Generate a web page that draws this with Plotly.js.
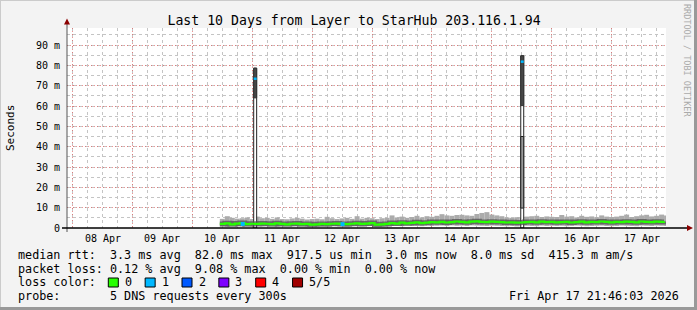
<!DOCTYPE html>
<html>
<head>
<meta charset="utf-8">
<script src="https://cdn.plot.ly/plotly-3.0.1.min.js"></script>
<style>html,body{margin:0;padding:0;background:#f3f3f3;}#chart{width:697px;height:310px;}</style>
</head>
<body>
<div id="chart"></div>
<script>
// ---- data ----
const title = 'Last 10 Days from Layer to StarHub 203.116.1.94';
const rangeStart = '2026-04-07 21:46:03';
const rangeEnd = '2026-04-17 21:46:03';
const dayTicks = ['2026-04-08','2026-04-09','2026-04-10','2026-04-11','2026-04-12','2026-04-13','2026-04-14','2026-04-15','2026-04-16','2026-04-17'];
const dayLabels = ['08 Apr','09 Apr','10 Apr','11 Apr','12 Apr','13 Apr','14 Apr','15 Apr','16 Apr','17 Apr'];
const yTickVals = [0,10,20,30,40,50,60,70,80,90];
const yTickText = ['0','10 m','20 m','30 m','40 m','50 m','60 m','70 m','80 m','90 m'];

// 2-hour samples starting 10 Apr 11:00 (values in ms)
const sampleStart = '2026-04-10T11:00:00';
const sampleStepHours = 2;
const median = [
  2.0,2.3,1.8,2.2,2.4,1.9,2.1,
  2.0,2.2,2.1,1.9,2.3,2.0,1.8,2.1,2.2,1.9,2.0,1.7,
  1.8,2.0,1.9,2.1,2.2,2.0,1.9,2.1,2.3,2.0,2.2,2.4,
  1.7,1.8,2.0,2.4,2.2,2.6,2.3,2.5,2.8,2.4,2.6,2.9,
  2.8,3.0,2.7,2.9,3.2,3.0,2.8,3.1,3.3,3.0,2.9,3.1,
  3.0,2.9,2.7,2.8,2.6,2.7,2.9,3.0,2.8,3.1,2.9,3.0,
  2.8,2.9,3.0,2.7,2.9,3.1,2.8,3.0,2.9,3.2,3.0,2.8,
  3.0,2.9,3.1,3.0,2.8,3.2,3.0,2.9,3.1,3.0,3.2
];
const smokeMax = [
  4.5,5.8,5.0,4.6,4.8,5.2,4.4,
  5.6,4.8,5.0,4.5,5.2,4.4,4.3,4.7,5.0,4.6,4.2,4.4,
  4.6,4.3,5.5,4.8,4.4,4.7,5.0,4.5,5.8,4.6,5.0,4.8,
  4.4,4.8,5.0,6.2,5.2,5.6,5.0,5.4,6.0,5.2,5.8,5.5,
  6.0,6.8,6.2,6.0,6.4,6.5,6.2,6.0,6.9,7.4,7.8,6.6,
  6.2,5.8,5.2,5.0,5.3,5.1,5.6,5.8,6.0,5.4,5.7,5.5,
  5.4,6.4,5.6,5.8,5.2,6.0,5.5,5.7,5.3,6.2,5.6,5.4,
  5.6,6.0,6.6,5.4,5.8,6.2,6.5,5.7,6.0,6.6,6.2
];
const smokeMin = [
  0.8,0.6,0.9,0.7,0.6,1.0,0.9,
  1.0,0.8,0.9,1.1,0.7,0.9,1.0,0.8,0.9,1.0,0.8,0.9,
  0.7,0.9,0.8,1.0,0.9,0.8,0.7,0.9,1.0,0.8,0.9,1.0,
  0.8,0.7,0.9,1.0,1.1,0.9,1.2,1.0,1.1,0.9,1.2,1.0,
  1.1,1.2,1.0,1.3,1.1,1.2,1.0,1.3,1.2,1.1,1.0,1.2,
  1.1,1.0,0.9,1.0,0.8,0.9,1.1,1.0,0.9,1.2,1.0,1.1,
  1.0,1.1,0.9,1.0,1.2,1.1,0.9,1.0,1.1,1.2,1.0,0.9,
  1.0,1.2,1.1,1.0,0.9,1.2,1.1,1.0,1.2,1.1,1.0
];
// samples with 1/5 loss
const lossTimes = ['2026-04-10T20:10:00','2026-04-12T12:10:00'];
const lossMedian = [2.0,1.9];

// latency spikes
const spikeTimes = ['2026-04-11T01:10:00','2026-04-15T12:10:00'];
const spikeMax = [78.6,84.7];
const spikeMedian = [73.4,81.8];
const spikeDarkLo = [64.0,60.2];
const spikeLightLo = [null,9.8];
const spikeLightHi = [null,45.0];

// legend text
const statLines = [
  'median rtt:  3.3 ms avg  82.0 ms max  917.5 us min  3.0 ms now  8.0 ms sd  415.3 m am/s',
  'packet loss: 0.12 % avg  9.08 % max  0.00 % min  0.00 % now',
  'loss color:',
  'probe:       5 DNS requests every 300s'
];
const lossLabels = ['0','1','2','3','4','5/5'];
const lossColors = ['#26ff00','#00b8ff','#0059ff','#7e00ff','#ff0000','#a10000'];
const stampText = 'Fri Apr 17 21:46:03 2026';

// ---- geometry helpers (pixel -> paper) ----
const L=67, R=666, T=28, B=228;
const px = x => (x-L)/(R-L);
const py = y => (B-y)/(B-T);
const nb = s => s.replace(/ /g,'\u00a0');
const MONO = 'DejaVu Sans Mono';

const t0 = new Date(sampleStart+'Z').getTime();
const times = median.map((_,i)=>new Date(t0+i*sampleStepHours*3600000).toISOString().replace('Z',''));
const H2 = sampleStepHours*3600000;

const traces = [
  {type:'bar', x:times, base:smokeMin, y:smokeMax.map((v,i)=>v-smokeMin[i]), width:H2, offset:0,
   marker:{color:'#ababab', line:{width:0}}, hoverinfo:'skip'},
  {type:'scatter', mode:'lines', x:times, y:median, line:{shape:'hv', color:'#505050', width:5}, opacity:0.75, hoverinfo:'skip'},
  {type:'scatter', mode:'lines', x:times, y:median, line:{shape:'hv', color:'#26ff00', width:2.2}},
  {type:'scatter', mode:'markers', x:lossTimes, y:lossMedian, marker:{symbol:'square', size:4, color:'#00b8ff'}},
  {type:'bar', x:spikeTimes, base:[0,0], y:spikeMax, width:4.3e6,
   marker:{color:'#ffffff', line:{color:'#222', width:1}}},
  {type:'bar', x:spikeTimes, base:spikeLightLo, y:spikeLightHi.map((v,i)=>v==null?null:v-spikeLightLo[i]), width:4.3e6,
   marker:{color:'#9a9a9a', line:{color:'#222', width:1}}},
  {type:'bar', x:spikeTimes, base:spikeDarkLo, y:spikeMax.map((v,i)=>v-spikeDarkLo[i]), width:4.3e6,
   marker:{color:'#484848', line:{color:'#333', width:1}}},
  {type:'bar', x:spikeTimes, base:spikeMedian.map(v=>v-0.6), y:spikeMedian.map(()=>1.2), width:4.3e6,
   marker:{color:'#00b8ff', line:{width:0}}}
];

const annotations = [];
dayTicks.forEach((d,i)=>{
  annotations.push({xref:'x', yref:'paper', x:d+' 12:00', y:py(238), text:dayLabels[i], showarrow:false,
    xanchor:'center', yanchor:'middle', font:{family:MONO, size:10, color:'#000'}});
});
annotations.push({xref:'paper', yref:'paper', x:px(10), y:py(128), text:'Seconds', textangle:-90, showarrow:false,
  xanchor:'center', yanchor:'middle', font:{family:MONO, size:11, color:'#000'}});
annotations.push({xref:'paper', yref:'paper', x:px(687), y:py(60), text:'RRDTOOL / TOBI OETIKER', textangle:90, showarrow:false,
  xanchor:'center', yanchor:'middle', font:{family:MONO, size:8.5, color:'#aaaaaa'}});
const lineY = [255, 268.5, 282.3, 295.7];
statLines.forEach((s,i)=>{
  annotations.push({xref:'paper', yref:'paper', x:px(15.5), y:py(lineY[i]), text:nb(s), showarrow:false,
    xanchor:'left', yanchor:'middle', font:{family:MONO, size:11.75, color:'#000'}});
});
annotations.push({xref:'paper', yref:'paper', x:px(681), y:py(295.7), text:nb(stampText), showarrow:false,
  xanchor:'right', yanchor:'middle', font:{family:MONO, size:11.75, color:'#000'}});

const shapes = [];
lossLabels.forEach((lab,i)=>{
  const x0 = 108.3 + i*36.85;
  shapes.push({type:'rect', xref:'paper', yref:'paper', x0:px(x0), x1:px(x0+10), y0:py(287), y1:py(278),
    fillcolor:lossColors[i], line:{color:'#000', width:1}});
  annotations.push({xref:'paper', yref:'paper', x:px(x0+14.5), y:py(282.3), text:lab, showarrow:false,
    xanchor:'left', yanchor:'middle', font:{family:MONO, size:11.75, color:'#000'}});
});
// axes lines and arrows
shapes.push({type:'line', xref:'paper', yref:'paper', x0:px(67), x1:px(67), y0:py(232), y1:py(24), line:{color:'#555', width:1}});
shapes.push({type:'line', xref:'paper', yref:'paper', x0:px(62), x1:px(688), y0:py(228), y1:py(228), line:{color:'#000', width:1.6}});
shapes.push({type:'path', xref:'paper', yref:'paper',
  path:`M ${px(64)} ${py(24.5)} L ${px(70)} ${py(24.5)} L ${px(67)} ${py(18.5)} Z`, fillcolor:'#8b0000', line:{width:0}});
shapes.push({type:'path', xref:'paper', yref:'paper',
  path:`M ${px(687)} ${py(225)} L ${px(687)} ${py(231)} L ${px(693)} ${py(228)} Z`, fillcolor:'#8b0000', line:{width:0}});
// frame
shapes.push({type:'line', xref:'paper', yref:'paper', x0:px(0), x1:px(697), y0:py(0.5), y1:py(0.5), line:{color:'#cbcbcb', width:1}});
shapes.push({type:'line', xref:'paper', yref:'paper', x0:px(0.5), x1:px(0.5), y0:py(0), y1:py(310), line:{color:'#cbcbcb', width:1}});
shapes.push({type:'line', xref:'paper', yref:'paper', x0:px(0), x1:px(697), y0:py(308.5), y1:py(308.5), line:{color:'#999', width:3}});
shapes.push({type:'line', xref:'paper', yref:'paper', x0:px(695.5), x1:px(695.5), y0:py(0), y1:py(310), line:{color:'#999', width:3}});

const layout = {
  width:697, height:310,
  margin:{l:L, r:697-R, t:T, b:310-B, pad:0},
  paper_bgcolor:'#f3f3f3', plot_bgcolor:'#ffffff',
  showlegend:false, barmode:'overlay',
  title:{text:title, font:{family:MONO, size:13.2, color:'#000'}, x:0.508, xanchor:'center', y:1-20.5/310, yanchor:'middle', yref:'container'},
  xaxis:{type:'date', range:[rangeStart, rangeEnd], tickmode:'array', tickvals:dayTicks, ticktext:dayTicks.map(()=>''),
    showgrid:true, gridcolor:'rgba(230,80,80,0.6)', griddash:'1px,2px', gridwidth:1,
    ticks:'', showline:false, zeroline:false, fixedrange:true,
    minor:{tickmode:'linear', dtick:6*3600000, tick0:'2026-04-08 00:00:00', showgrid:true, gridcolor:'#c4c4c4', griddash:'dot', gridwidth:1}},
  yaxis:{range:[0, 90/0.915], tickmode:'array', tickvals:yTickVals, ticktext:yTickText,
    showgrid:true, gridcolor:'rgba(230,80,80,0.6)', griddash:'1px,2px', gridwidth:1,
    ticks:'', showline:false, zeroline:false, ticklabelstandoff:6,
    tickfont:{family:MONO, size:10, color:'#000'},
    minor:{tickmode:'linear', tick0:0, dtick:5, showgrid:true, gridcolor:'#c4c4c4', griddash:'dot', gridwidth:1}},
  annotations:annotations, shapes:shapes
};
Plotly.newPlot('chart', traces, layout, {staticPlot:true, displayModeBar:false});
</script>
</body>
</html>
